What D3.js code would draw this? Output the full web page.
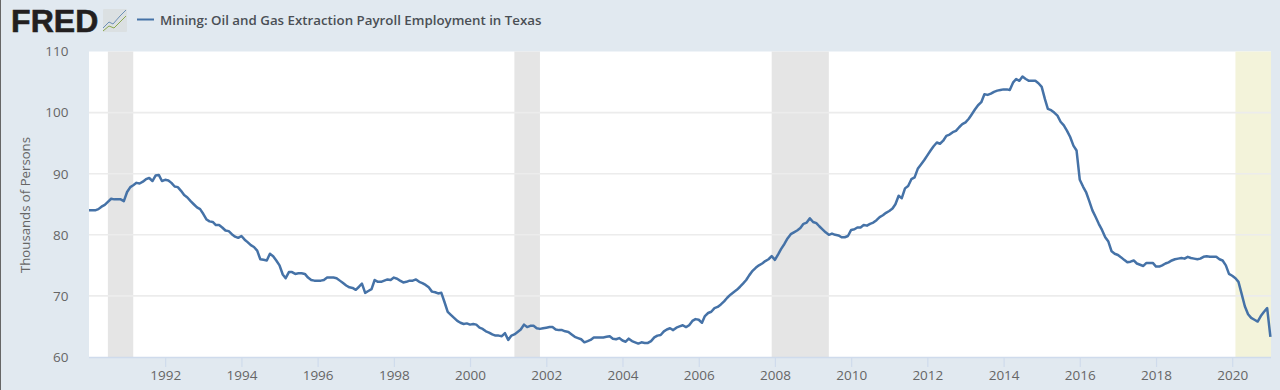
<!DOCTYPE html>
<html>
<head>
<meta charset="utf-8">
<script src="https://cdn.jsdelivr.net/npm/d3@7"></script>
<style>
  html, body { margin: 0; padding: 0; background: #e1e9f0; }
  svg { display: block; }
  text { font-family: "Open Sans", sans-serif; }
</style>
</head>
<body>
<svg width="1280" height="390"></svg>
<script>
// monthly values, thousands of persons
var y1990 = [84, 84, 84, 84.2, 84.6, 84.9, 85.4, 85.9, 85.8, 85.8, 85.8, 85.5];
var y1991 = [87, 87.8, 88.1, 88.5, 88.4, 88.7, 89.1, 89.3, 88.8, 89.7, 89.8, 88.8];
var y1992 = [89, 88.9, 88.5, 87.9, 87.8, 87.2, 86.5, 86.1, 85.5, 85, 84.5, 84.2];
var y1993 = [83.4, 82.5, 82.2, 82.1, 81.6, 81.6, 81.2, 80.7, 80.6, 80.1, 79.7, 79.5];
var y1994 = [79.8, 79.2, 78.8, 78.3, 78, 77.4, 76, 75.9, 75.8, 76.9, 76.5, 75.8];
var y1995 = [75, 73.5, 72.9, 73.9, 73.9, 73.6, 73.7, 73.7, 73.6, 73, 72.6, 72.5];
var y1996 = [72.5, 72.5, 72.6, 73, 73, 73, 72.9, 72.5, 72.1, 71.7, 71.4, 71.3];
var y1997 = [71, 71.5, 72, 70.5, 70.8, 71.1, 72.6, 72.3, 72.3, 72.5, 72.7, 72.6];
var y1998 = [73, 72.8, 72.5, 72.2, 72.3, 72.5, 72.5, 72.7, 72.3, 72.1, 71.8, 71.4];
var y1999 = [70.7, 70.6, 70.4, 70.5, 69, 67.4, 66.9, 66.4, 65.9, 65.6, 65.4, 65.5];
var y2000 = [65.3, 65.4, 65.3, 64.8, 64.6, 64.2, 64, 63.7, 63.5, 63.5, 63.4, 63.9];
var y2001 = [62.8, 63.5, 63.7, 64.1, 64.5, 65.3, 64.9, 65.1, 65.1, 64.7, 64.6, 64.7];
var y2002 = [64.8, 64.9, 64.9, 64.5, 64.4, 64.4, 64.2, 64.1, 63.7, 63.3, 63.1, 62.9];
var y2003 = [62.4, 62.6, 62.8, 63.2, 63.2, 63.2, 63.2, 63.3, 63.4, 63, 62.9, 63.1];
var y2004 = [62.7, 62.5, 63, 62.6, 62.4, 62.2, 62.4, 62.3, 62.3, 62.6, 63.2, 63.5];
var y2005 = [63.6, 64.2, 64.5, 64.7, 64.4, 64.8, 65, 65.2, 64.9, 65.2, 65.9, 66.2];
var y2006 = [66.1, 65.6, 66.7, 67.2, 67.4, 68, 68.2, 68.6, 69.1, 69.7, 70.2, 70.6];
var y2007 = [71, 71.5, 72, 72.6, 73.4, 74.1, 74.6, 75, 75.3, 75.7, 76, 76.5];
var y2008 = [75.9, 76.8, 77.7, 78.5, 79.4, 80.1, 80.4, 80.7, 81.1, 81.8, 82, 82.7];
var y2009 = [82.1, 81.9, 81.4, 80.9, 80.4, 80, 80.2, 80, 79.9, 79.6, 79.6, 79.8];
var y2010 = [80.8, 80.9, 81.2, 81.2, 81.6, 81.5, 81.8, 82, 82.4, 82.9, 83.2, 83.6];
var y2011 = [83.9, 84.3, 85, 86.4, 86, 87.6, 88, 89.1, 89.4, 90.8, 91.5, 92.2];
var y2012 = [93, 93.8, 94.5, 95.1, 94.9, 95.4, 96.2, 96.4, 96.8, 97, 97.6, 98.1];
var y2013 = [98.4, 99, 99.7, 100.5, 101.2, 101.7, 103, 102.9, 103.1, 103.4, 103.6, 103.7];
var y2014 = [103.8, 103.8, 103.7, 104.9, 105.5, 105.2, 105.9, 105.5, 105.2, 105.2, 105.2, 104.8];
var y2015 = [104.2, 102.2, 100.6, 100.4, 100, 99.5, 98.5, 97.9, 97, 96, 94.6, 93.8];
var y2016 = [89, 87.9, 87, 85.5, 84, 82.9, 81.8, 80.8, 79.6, 78.9, 77.3, 76.9];
var y2017 = [76.7, 76.3, 75.9, 75.5, 75.6, 75.8, 75.3, 75.1, 74.9, 75.4, 75.4, 75.4];
var y2018 = [74.8, 74.8, 75, 75.3, 75.5, 75.8, 76, 76.1, 76.2, 76.1, 76.4, 76.2];
var y2019 = [76.1, 76, 76.1, 76.4, 76.5, 76.4, 76.4, 76.4, 76, 75.8, 75, 73.6];
var y2020 = [73.3, 72.9, 72.3, 70.3, 68.3, 67, 66.4, 66.1, 65.8, 66.7, 67.4, 68];
var y2021 = [63.3];

var years = [y1990, y1991, y1992, y1993, y1994, y1995, y1996, y1997, y1998, y1999, y2000,
  y2001, y2002, y2003, y2004, y2005, y2006, y2007, y2008, y2009, y2010,
  y2011, y2012, y2013, y2014, y2015, y2016, y2017, y2018, y2019, y2020, y2021];

var yTicks = [60, 70, 80, 90, 100, 110];
var xTickYears = [1992, 1994, 1996, 1998, 2000, 2002, 2004, 2006, 2008, 2010, 2012, 2014, 2016, 2018, 2020];

// start and end of shaded periods [year, month]
var recessions = [[[1990, 6], [1991, 2]], [[2001, 2], [2001, 10]], [[2007, 11], [2009, 5]]];
var lastYearBand = [[2020, 1], [2021, 1]];

var data = [];
years.forEach(function (vals, i) {
  vals.forEach(function (v, m) {
    data.push({ date: new Date(1990 + i, m, 1), value: v });
  });
});

// set the dimensions of the plot
var margin = { top: 51.5, left: 89, right: 9, bottom: 33 };
var width = 1280, height = 390;
var plotRight = width - margin.right;
var plotBottom = height - margin.bottom;

var x = d3.scaleTime()
  .domain([new Date(1990, 0, 1), new Date(2021, 0, 1)])
  .range([margin.left, 1270.4]);
var y = d3.scaleLinear().domain([60, 110]).range([plotBottom, margin.top]);

var svg = d3.select('svg');

// thin dark edge on the left of the screenshot
svg.append('rect').attr('width', 1).attr('height', 390).attr('fill', '#666');

svg.append('rect')
  .attr('x', margin.left)
  .attr('y', margin.top)
  .attr('width', plotRight - margin.left)
  .attr('height', plotBottom - margin.top)
  .attr('fill', '#fff');

function monthDate(p) {
  return new Date(p[0], p[1], 1);
}

svg.selectAll('.recession')
  .data(recessions)
  .enter()
  .append('rect')
  .attr('class', 'recession')
  .attr('x', function (d) { return x(monthDate(d[0])); })
  .attr('y', margin.top)
  .attr('width', function (d) { return x(monthDate(d[1])) - x(monthDate(d[0])); })
  .attr('height', plotBottom - margin.top)
  .attr('fill', '#e5e5e5');

svg.append('rect')
  .attr('x', x(monthDate(lastYearBand[0])))
  .attr('y', margin.top)
  .attr('width', plotRight - x(monthDate(lastYearBand[0])))
  .attr('height', plotBottom - margin.top)
  .attr('fill', '#f3f3da');

// y axis, labels and grid
var yAxis = svg.append('g')
  .attr('transform', 'translate(' + margin.left + ',0)')
  .call(d3.axisLeft(y).tickValues(yTicks).tickSize(0).tickPadding(20.5));
yAxis.select('.domain').remove();
yAxis.selectAll('text')
  .attr('font-size', '13.5px')
  .attr('fill', '#666')
  .style('font-family', '"Open Sans", sans-serif');

svg.selectAll('.grid')
  .data(yTicks.slice(1, 5))
  .enter()
  .append('line')
  .attr('class', 'grid')
  .attr('x1', margin.left)
  .attr('x2', plotRight)
  .attr('y1', function (d) { return y(d); })
  .attr('y2', function (d) { return y(d); })
  .attr('stroke', '#ececec')
  .attr('stroke-width', 1.6);

// x axis
var xAxis = svg.append('g')
  .attr('transform', 'translate(0,' + plotBottom + ')')
  .call(d3.axisBottom(x)
    .tickValues(xTickYears.map(function (yr) { return new Date(yr, 0, 1); }))
    .tickFormat(d3.timeFormat('%Y'))
    .tickSize(10)
    .tickPadding(3)
    .tickSizeOuter(0));
xAxis.select('.domain')
  .attr('stroke', '#cfdbec')
  .attr('stroke-width', 1.5)
  .attr('d', 'M' + margin.left + ',0.5H' + plotRight);
xAxis.selectAll('line').attr('stroke', '#cfdbec').attr('stroke-width', 1.2);
xAxis.selectAll('text')
  .attr('font-size', '13.5px')
  .attr('fill', '#666')
  .style('font-family', '"Open Sans", sans-serif');

// the series
var line = d3.line()
  .x(function (d) { return x(d.date); })
  .y(function (d) { return y(d.value); });

svg.append('path')
  .datum(data)
  .attr('d', line)
  .attr('fill', 'none')
  .attr('stroke', '#4572a7')
  .attr('stroke-width', 2.5)
  .attr('stroke-linejoin', 'round');

// y axis title
svg.append('text')
  .attr('transform', 'translate(30,205) rotate(-90)')
  .attr('text-anchor', 'middle')
  .attr('font-size', '13.2px')
  .attr('fill', '#666')
  .text('Thousands of Persons');

// header: logo, small icon, legend
svg.append('text')
  .attr('x', 11)
  .attr('y', 31.5)
  .attr('font-size', '32px')
  .attr('font-weight', 700)
  .attr('letter-spacing', '0.1px')
  .attr('stroke', '#231f20')
  .attr('stroke-width', 0.6)
  .attr('fill', '#231f20')
  .style('font-family', '"Liberation Sans", Arial, sans-serif')
  .text('FRED');

var icon = svg.append('g').attr('transform', 'translate(103,9)');
icon.append('rect').attr('width', 24).attr('height', 23).attr('rx', 1).attr('fill', '#dbe0e2');
icon.append('path').attr('d', 'M0,19L6,13L10,15L17,7L23,1').attr('fill', 'none').attr('stroke', '#6b8fb5').attr('stroke-width', 1);
icon.append('path').attr('d', 'M0,22L6,17L11,19L18,12L23,7').attr('fill', 'none').attr('stroke', '#8aa84f').attr('stroke-width', 1);

svg.append('line')
  .attr('x1', 137).attr('x2', 154)
  .attr('y1', 19.5).attr('y2', 19.5)
  .attr('stroke', '#4572a7')
  .attr('stroke-width', 2);

svg.append('text')
  .attr('x', 160)
  .attr('y', 24.5)
  .attr('font-size', '13.3px')
  .attr('font-weight', 600)
  .attr('fill', '#4a4f55')
  .text('Mining: Oil and Gas Extraction Payroll Employment in Texas');
</script>
</body>
</html>
